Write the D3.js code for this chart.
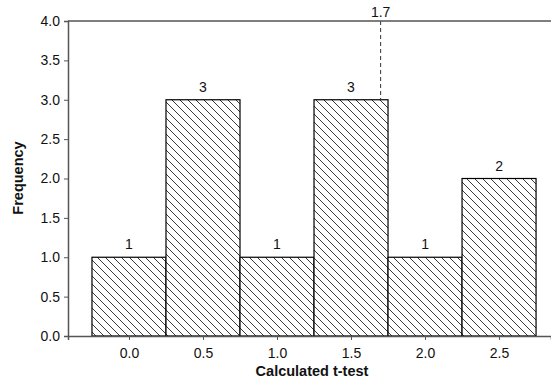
<!DOCTYPE html>
<html>
<head>
<meta charset="utf-8">
<script src="https://cdn.jsdelivr.net/npm/d3@7"></script>
<style>
  html, body { margin: 0; padding: 0; background: #fff; }
  svg { display: block; font-family: "Liberation Sans", Arial, sans-serif; }
</style>
</head>
<body>
<svg id="chart" width="551" height="379"></svg>
<script>
// Histogram of calculated t-test values
const binCenters = [0.0, 0.5, 1.0, 1.5, 2.0, 2.5];
const frequencies = [1, 3, 1, 3, 1, 2];
const binWidth = 0.5;
const xTicks = [0.0, 0.5, 1.0, 1.5, 2.0, 2.5];
const yTicks = [0.0, 0.5, 1.0, 1.5, 2.0, 2.5, 3.0, 3.5, 4.0];
const criticalValue = 1.7;

const svg = d3.select("#chart");
const plotLeft = 68, plotRight = 551, plotTop = 21, plotBottom = 336;
const tickFont = 14, titleFont = 14.5;

const x = d3.scaleLinear()
  .domain([-0.412, 2.851])
  .range([plotLeft, plotRight]);
const y = d3.scaleLinear().domain([0, 4]).range([plotBottom, plotTop]);

// diagonal hatch fill
const defs = svg.append("defs");
const pat = defs.append("pattern")
  .attr("id", "hatch")
  .attr("patternUnits", "userSpaceOnUse")
  .attr("width", 8).attr("height", 8);
pat.append("rect").attr("width", 8).attr("height", 8).attr("fill", "#fff");
pat.append("path")
  .attr("d", "M-2,-2 L10,10 M-2,6 L2,10 M6,-2 L10,2")
  .attr("stroke", "#3a3a3a").attr("stroke-width", 1);

// bars
svg.append("g").selectAll("rect")
  .data(binCenters)
  .join("rect")
  .attr("x", d => x(d - binWidth / 2))
  .attr("y", (d, i) => y(frequencies[i]))
  .attr("width", d => x(d + binWidth / 2) - x(d - binWidth / 2))
  .attr("height", (d, i) => y(0) - y(frequencies[i]))
  .attr("fill", "url(#hatch)")
  .attr("stroke", "#000")
  .attr("stroke-width", 1.2);

// count labels
svg.append("g").selectAll("text")
  .data(binCenters)
  .join("text")
  .attr("x", d => x(d))
  .attr("y", (d, i) => y(frequencies[i]) - 8)
  .attr("text-anchor", "middle")
  .attr("font-size", tickFont)
  .attr("fill", "#111")
  .text((d, i) => frequencies[i]);

// critical value marker
svg.append("line")
  .attr("x1", x(criticalValue)).attr("x2", x(criticalValue))
  .attr("y1", y(4)).attr("y2", y(frequencies[3]))
  .attr("stroke", "#333").attr("stroke-width", 1)
  .attr("stroke-dasharray", "4,3");
svg.append("text")
  .attr("x", x(criticalValue)).attr("y", y(4) - 4)
  .attr("text-anchor", "middle")
  .attr("font-size", tickFont)
  .attr("fill", "#111")
  .text(criticalValue);

// top frame line
svg.append("line")
  .attr("x1", plotLeft).attr("x2", plotRight)
  .attr("y1", plotTop).attr("y2", plotTop)
  .attr("stroke", "#555").attr("stroke-width", 1.5);

// axes
const yAxis = svg.append("g")
  .attr("transform", `translate(${plotLeft},0)`)
  .call(d3.axisLeft(y).tickValues(yTicks).tickFormat(d3.format(".1f")).tickSize(4).tickPadding(4));
const xAxis = svg.append("g")
  .attr("transform", `translate(0,${plotBottom})`)
  .call(d3.axisBottom(x).tickValues(xTicks).tickFormat(d3.format(".1f")).tickSize(4).tickPadding(8));

[yAxis, xAxis].forEach(g => {
  g.select(".domain").attr("stroke", "#555").attr("stroke-width", 1.5);
  g.selectAll(".tick line").attr("stroke", "#555");
  g.selectAll(".tick text").attr("font-size", tickFont).attr("fill", "#111")
    .attr("font-family", "Liberation Sans, Arial, sans-serif");
});

// axis titles
svg.append("text")
  .attr("x", 312).attr("y", 376)
  .attr("text-anchor", "middle")
  .attr("font-size", titleFont).attr("font-weight", "bold")
  .attr("fill", "#111")
  .text("Calculated t-test");
svg.append("text")
  .attr("transform", "translate(23,178) rotate(-90)")
  .attr("text-anchor", "middle")
  .attr("font-size", titleFont).attr("font-weight", "bold")
  .attr("fill", "#111")
  .text("Frequency");
</script>
</body>
</html>
